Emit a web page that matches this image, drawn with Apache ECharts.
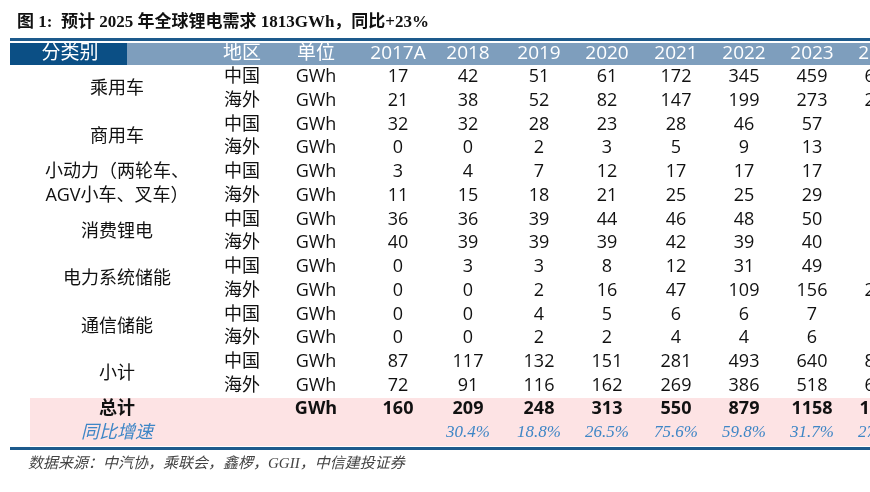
<!DOCTYPE html><html><head><meta charset="utf-8">
<script src="https://cdn.jsdelivr.net/npm/echarts@6/dist/echarts.min.js"></script>
<style>html,body{margin:0;background:#fff}#c{width:870px;height:492px}</style></head><body><div id="c"></div>
<script>
const headers=['分类别','地区','单位','2017A','2018','2019','2020','2021','2022','2023','2024'];
const categories=['乘用车','商用车','小动力（两轮车、\nAGV小车、叉车）','消费锂电','电力系统储能','通信储能','小计'];
const regions=['中国','海外'];
const unit='GWh';
const values=[
[17,42,51,61,172,345,459,650],[21,38,52,82,147,199,273,280],
[32,32,28,23,28,46,57,60],[0,0,2,3,5,9,13,15],
[3,4,7,12,17,17,17,18],[11,15,18,21,25,25,29,32],
[36,36,39,44,46,48,50,52],[40,39,39,39,42,39,40,42],
[0,3,3,8,12,31,49,65],[0,0,2,16,47,109,156,230],
[0,0,4,5,6,6,7,8],[0,0,2,2,4,4,6,7],
[87,117,132,151,281,493,640,850],[72,91,116,162,269,386,518,620]];
const totals=[160,209,248,313,550,879,1158,1474];
const growth=['','30.4%','18.8%','26.5%','75.6%','59.8%','31.7%','27.3%'];
const title='图 1:  预计 2025 年全球锂电需求 1813GWh，同比+23%';
const source='数据来源：中汽协，乘联会，鑫椤，GGII，中信建投证券';

const colX=[117,242,316,398,468,539,607,676,744,812,880];
const row0=77,rowH=23.75;
const SANS='"Open Sans","Noto Sans CJK SC",sans-serif';
const items=[];
const t=(x,y,s,st)=>items.push({kind:'t',x,y,s,st:st||{}});
const r=(x1,y1,x2,y2,fill)=>items.push({kind:'r',x:x1,y:y1,x2,y2,fill});
r(10,38,900,41,'#1d5a8c');
r(10,43,127,65,'#0b4f85');r(127,43,900,65,'#7e9ebd');
r(30,398,900,446,'#fde3e4');
r(10,447,900,450,'#1d5a8c');
headers.forEach((h,i)=>t(i==0?70:colX[i],54,h,{fill:'#fff',font:'19px '+SANS}));
values.forEach((row,k)=>{
  const y=row0+k*rowH;
  t(colX[1],y,regions[k%2]);t(colX[2],y,unit);
  row.forEach((v,j)=>t(colX[3+j],y,String(v)));
});
categories.forEach((c,i)=>t(colX[0],row0+(2*i+0.5)*rowH,c,{lineHeight:24}));
const ty=row0+14*rowH-1;
const B='bold 18px '+SANS;
t(colX[0],ty,'总计',{font:B});t(colX[2],ty,unit,{font:B});
totals.forEach((v,j)=>t(colX[3+j],ty,String(v),{font:B}));
const gy=ty+24;
t(colX[0],gy,'同比增速',{fill:'#3e86c6',font:'italic 18px '+SANS});
growth.forEach((v,j)=>v&&t(colX[3+j],gy,v,{fill:'#3e86c6',font:'italic 17px "Liberation Serif",serif'}));

const chart=echarts.init(document.getElementById('c'));
chart.setOption({
  animation:false,
  title:{text:title,left:12,top:9,textStyle:{fontSize:17,fontWeight:'bold',color:'#111',fontFamily:'"Liberation Serif","Noto Sans CJK SC",serif'}},
  graphic:[{type:'text',left:28,top:457,style:{text:source,fill:'#444',font:'italic 15px "Liberation Serif","Noto Sans CJK SC",serif'}}],
  grid:{left:0,right:0,top:0,bottom:0},
  xAxis:{type:'value',min:0,max:870,show:false},
  yAxis:{type:'value',min:0,max:492,inverse:true,show:false},
  series:[{type:'custom',coordinateSystem:'cartesian2d',clip:false,
    data:items.map((d,i)=>[d.x,d.y,i]),
    renderItem:(p,api)=>{
      const d=items[api.value(2)];
      const [x,y]=api.coord([d.x,d.y]);
      if(d.kind==='r'){const [x2,y2]=api.coord([d.x2,d.y2]);
        return {type:'rect',shape:{x,y,width:x2-x,height:y2-y},style:{fill:d.fill}};}
      return {type:'text',x,y,style:Object.assign({text:d.s,align:'center',verticalAlign:'middle',fill:'#111',font:'18px '+SANS},d.st)};
    }}]
});
</script></body></html>
